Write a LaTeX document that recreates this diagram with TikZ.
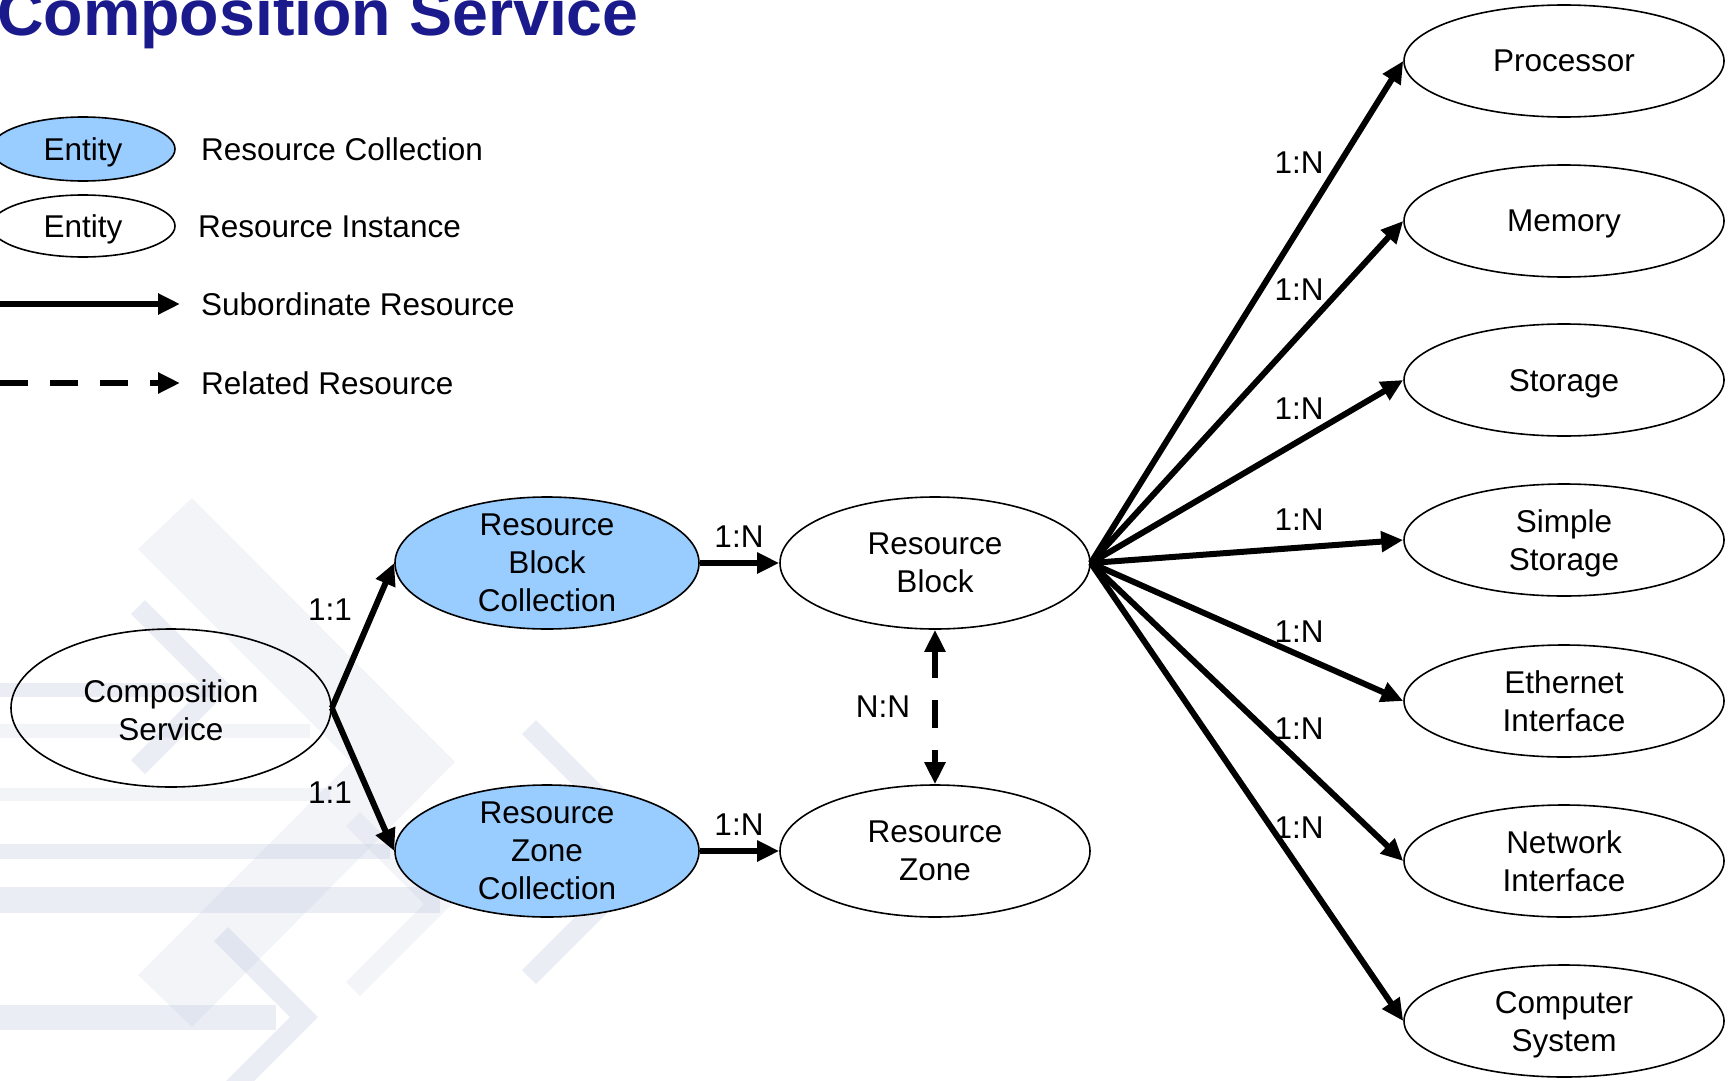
\documentclass[tikz,border=0pt]{standalone}
\usepackage{fontspec}
\setmainfont{Liberation Sans}
\usetikzlibrary{shapes.geometric,arrows.meta}
\definecolor{collblue}{RGB}{153,204,255}
\definecolor{titleblue}{RGB}{26,26,140}
\definecolor{wm}{RGB}{190,199,222}
\newcommand\nodesc[1]{\raisebox{0pt}[\height][0pt]{#1}}
\begin{document}
\begin{tikzpicture}[x=1pt,y=-1pt,
  ell/.style={ellipse, draw, line width=1.6pt, inner sep=0pt},
  coll/.style={ell, fill=collblue},
  txt/.style={font=\fontsize{31.5}{38}\selectfont, align=center, inner sep=0pt},
  lbl/.style={font=\fontsize{31.5}{36}\selectfont, inner sep=0pt},
  sub/.style={line width=6pt, -{Triangle[length=22pt,width=20pt]}},
  relline/.style={line width=6pt, dash pattern=on 28pt off 22pt},
  wml/.style={fill=wm, fill opacity=0.2, draw=none},
  wmd/.style={fill=wm, fill opacity=0.32, draw=none},
]
\useasboundingbox (0,0) rectangle (1729,1081);

% ---- background watermark ----
\fill[wml] (192,498) -- (455,762) -- (192,1027) -- (138,975) -- (351,762) -- (138,549) -- cycle;
\fill[wmd] (145,600) -- (232,687) -- (145,774) -- (131,760) -- (204,687) -- (131,614) -- cycle;
\fill[wmd] (536,720) -- (668,852) -- (536,984) -- (522,970) -- (640,852) -- (522,734) -- cycle;
\fill[wml] (360,812) -- (452,904) -- (360,996) -- (346,982) -- (424,904) -- (346,826) -- cycle;
\fill[wmd] (228,927) -- (318,1017) -- (228,1107) -- (214,1093) -- (290,1017) -- (214,941) -- cycle;
\fill[wmd] (0,683) rectangle (215,697);
\fill[wml] (0,724) rectangle (310,738);
\fill[wml] (0,788) rectangle (330,801);
\fill[wmd] (0,844) rectangle (390,859);
\fill[wmd] (0,887) rectangle (440,913);
\fill[wmd] (0,1005) rectangle (276,1030);

% ---- title ----
\node[anchor=base west, inner sep=0pt, font=\bfseries\fontsize{64.5}{70}\selectfont, text=titleblue] (title) at (-3,36) {Composition Service};

% ---- legend ----
\node[coll, minimum width=184pt, minimum height=64pt] (le1) at (83,149) {};
\node[txt] (le1t) at (le1) {\nodesc{Entity}};
\node[ell, minimum width=184pt, minimum height=62pt] (le2) at (83,226) {};
\node[txt] (le2t) at (le2) {\nodesc{Entity}};
\node[txt, anchor=west] (lg1) at (201,149) {Resource Collection};
\node[txt, anchor=west] (lg2) at (198,227) {Resource Instance};
\node[txt, anchor=west] (lg3) at (201,304) {Subordinate Resource};
\node[txt, anchor=west] (lg4) at (201,383) {Related Resource};
\coordinate (ls1) at (0,304);
\coordinate (le1e) at (180,304);
\coordinate (ls2) at (0,383);
\coordinate (le2e) at (180,383);
\draw[sub] (ls1) -- (le1e);
\draw[relline, -{Triangle[length=22pt,width=20pt]}] (ls2) -- (le2e);

% ---- main nodes ----
\node[ell, minimum width=320pt, minimum height=158pt] (cs) at (171,708) {};
\node[txt] (cst) at ([yshift=-2.5pt]cs.center) {Composition\\Service};
\node[coll, minimum width=304pt, minimum height=132pt] (rbc) at (547,563) {};
\node[txt] (rbct) at (rbc) {Resource\\Block\\Collection};
\node[coll, minimum width=304pt, minimum height=132pt] (rzc) at (547,851) {};
\node[txt] (rzct) at (rzc) {Resource\\Zone\\Collection};
\node[ell, minimum width=310pt, minimum height=132pt] (rb) at (935,563) {};
\node[txt] (rbt) at (rb) {Resource\\Block};
\node[ell, minimum width=310pt, minimum height=132pt] (rz) at (935,851) {};
\node[txt] (rzt) at (rz) {Resource\\Zone};

\foreach \nm/\yy/\tx in {proc/61/Processor, mem/221/\nodesc{Memory}, stor/380/\nodesc{Storage},
  sstor/540/{Simple\\\nodesc{Storage}}, eth/701/{Ethernet\\Interface},
  net/861/{Network\\Interface}, comp/1021/{Computer\\\nodesc{System}}}{
  \node[ell, minimum width=320pt, minimum height=112pt] (\nm) at (1564,\yy) {};
  \node[txt] (\nm t) at (\nm) {\tx};
}

% ---- connectors ----
\draw[sub] (cs.east) -- (rbc.west);
\draw[sub] (cs.east) -- (rzc.west);
\draw[sub] (rbc.east) -- (rb.west);
\draw[sub] (rzc.east) -- (rz.west);
\draw[relline, {Triangle[length=22pt,width=20pt]}-{Triangle[length=22pt,width=20pt]}] (rb.south) -- (rz.north);
\foreach \nm in {proc,mem,stor,sstor,eth,net,comp}{
  \draw[sub] (rb.east) -- (\nm.west);
}

% ---- labels ----
\node[lbl] (l11a) at (330,610) {1:1};
\node[lbl] (l11b) at (330,793) {1:1};
\node[lbl] (l1na) at (739,537) {1:N};
\node[lbl] (l1nb) at (739,825) {1:N};
\node[lbl] (lnn) at (883,707) {N:N};
\foreach \i/\yy in {1/163,2/290,3/409,4/520,5/632,6/729,7/828}{
  \node[lbl] (r1n\i) at (1299,\yy) {1:N};
}
\end{tikzpicture}
\end{document}
